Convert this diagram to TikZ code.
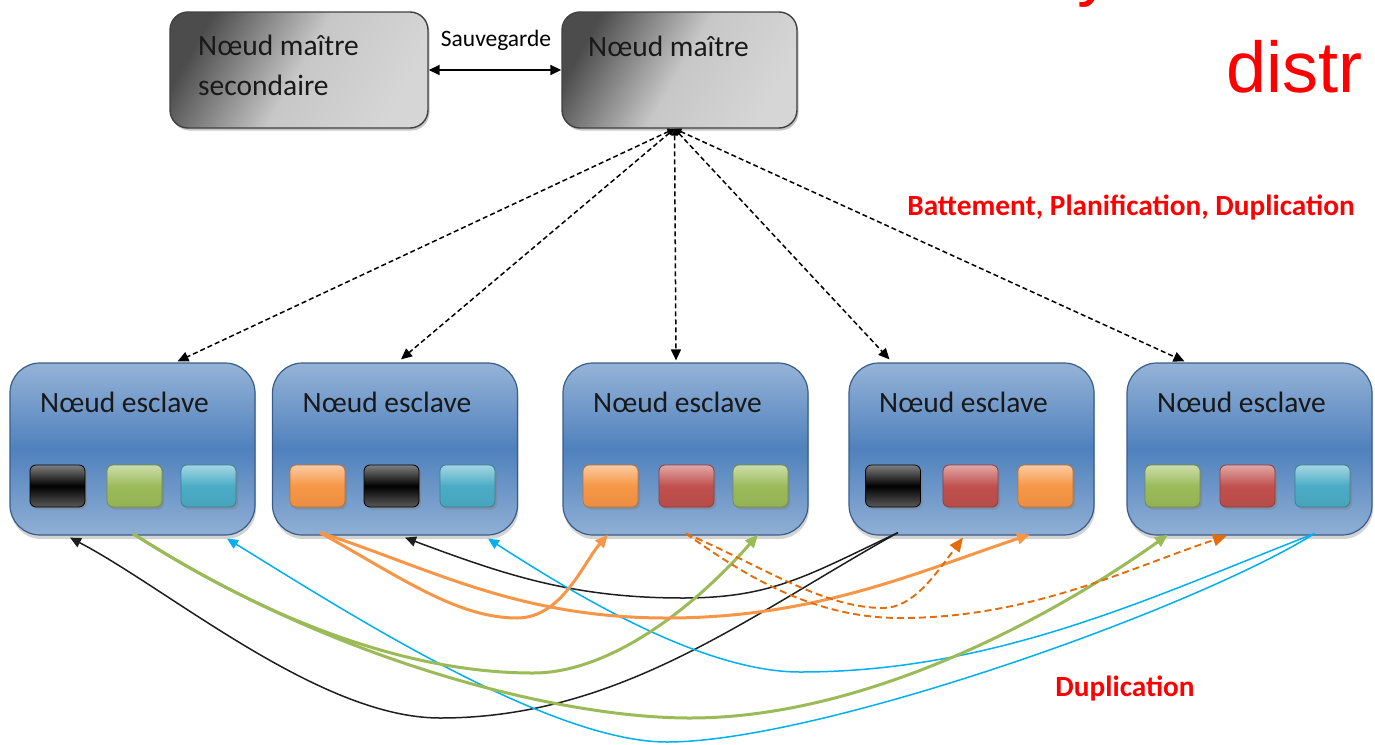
\documentclass[tikz,border=0pt]{standalone}
\usepackage{fontspec}
\setmainfont{Carlito}
\newfontfamily\arialfont{Liberation Sans}
\usetikzlibrary{arrows.meta,shadows}

\definecolor{slaveTop}{RGB}{149,179,215}
\definecolor{slaveMid}{RGB}{79,129,189}
\definecolor{slaveEdge}{RGB}{56,93,138}
\definecolor{cGreen}{RGB}{155,187,89}
\definecolor{cCyan}{RGB}{75,172,198}
\definecolor{cOrange}{RGB}{247,150,70}
\definecolor{cRed}{RGB}{192,80,77}
\definecolor{lnCyan}{RGB}{0,176,240}
\definecolor{lnOrange}{RGB}{247,150,70}
\definecolor{lnDashOrange}{RGB}{228,108,10}
\definecolor{lnGreen}{RGB}{155,187,89}
\definecolor{lnBlack}{RGB}{30,30,30}

\tikzset{
  x=1pt, y=-1pt,
  masterbox/.style={draw=black!75, line width=1.4pt, rounded corners=18pt,
    minimum width=#1, minimum height=116pt, inner sep=0pt,
    shading=axis, left color=black!70, right color=black!16, middle color=black!22,
    shading angle=60,
    drop shadow={shadow xshift=1.5pt, shadow yshift=-2.5pt, opacity=0.45}},
  slavebox/.style={draw=slaveEdge, line width=1.2pt, rounded corners=30pt,
    minimum width=245pt, minimum height=172pt, inner sep=0pt,
    top color=slaveTop, bottom color=slaveTop!92!slaveMid, middle color=slaveMid,
    drop shadow={shadow xshift=1pt, shadow yshift=-4pt, opacity=0.35}},
  chip/.style={rounded corners=6pt, minimum width=55pt, minimum height=42pt,
    inner sep=0pt, line width=0.8pt, draw=#1!75!black,
    top color=#1!50!white, bottom color=#1!95!black, middle color=#1,
    drop shadow={shadow xshift=2pt, shadow yshift=-2.5pt, opacity=0.45}},
  chipk/.style={rounded corners=6pt, minimum width=55pt, minimum height=42pt,
    inner sep=0pt, line width=0.8pt, draw=black,
    top color=black!50, bottom color=black!65, middle color=black,
    drop shadow={shadow xshift=2pt, shadow yshift=-2.5pt, opacity=0.45}},
  boxtext/.style={anchor=west, inner sep=0pt, text=black!90,
    font=\fontsize{29.5}{40}\selectfont, align=left},
  redlabel/.style={inner sep=0pt, text=red, font=\bfseries\fontsize{29.3}{30}\selectfont},
  heartbeat/.style={draw=black, line width=1.5pt, dash pattern=on 5pt off 3pt,
    {Triangle[length=7pt,width=6pt]}-{Triangle[length=11pt,width=10pt]}},
  thinlink/.style={draw=#1, line width=1.5pt, -{Triangle[length=11pt,width=10pt]}},
  thicklink/.style={draw=#1, line width=3pt, -{Triangle[length=13pt,width=11pt]}},
  dashlink/.style={draw=lnDashOrange, line width=1.9pt, dash pattern=on 7pt off 4pt,
    -{Triangle[length=14pt,width=12pt]}},
}

\begin{document}
\begin{tikzpicture}
\useasboundingbox (0,0) rectangle (1375,744);

% ---- master nodes ----
\node[masterbox=258pt] (ms) at (299,70) {};
\node[masterbox=235pt] (mm) at (679.5,70) {};
\node[boxtext] (mstext) at (198,65) {Nœud maître\\secondaire};
\node[boxtext] (mmtext) at (588,46) {Nœud maître};

\draw[line width=1.6pt, {Triangle[length=11pt,width=10pt]}-{Triangle[length=11pt,width=10pt]}]
  (ms.east) -- (mm.west);
\node[inner sep=0pt, font=\fontsize{23.5}{24}\selectfont] (sauv) at (496,40) {Sauvegarde};

% ---- slave nodes ----
\foreach \n/\cx in {1/132.5, 2/395, 3/685.5, 4/971.5, 5/1249.5} {
  \node[slavebox] (s\n) at (\cx,449) {};
  \node[boxtext] (s\n text) at (\cx-92.5,402) {Nœud esclave};
}

% data blocks held by each slave
\node[chipk]          (s1a) at (57.5,486) {};
\node[chip=cGreen]    (s1b) at (134.5,486) {};
\node[chip=cCyan]     (s1c) at (208.5,486) {};
\node[chip=cOrange]   (s2a) at (317.5,486) {};
\node[chipk]          (s2b) at (391.5,486) {};
\node[chip=cCyan]     (s2c) at (467.5,486) {};
\node[chip=cOrange]   (s3a) at (610.5,486) {};
\node[chip=cRed]      (s3b) at (686.5,486) {};
\node[chip=cGreen]    (s3c) at (760.5,486) {};
\node[chipk]          (s4a) at (893,486) {};
\node[chip=cRed]      (s4b) at (970.5,486) {};
\node[chip=cOrange]   (s4c) at (1045.5,486) {};
\node[chip=cGreen]    (s5a) at (1172.5,486) {};
\node[chip=cRed]      (s5b) at (1247.5,486) {};
\node[chip=cCyan]     (s5c) at (1322.5,486) {};

% ---- heartbeat / scheduling links ----
\coordinate (hub) at ([xshift=-5pt]mm.south);
\coordinate (t1) at ([shift={(45,-1)}]s1.north);
\coordinate (t2) at ([shift={(6,-3)}]s2.north);
\coordinate (t3) at ([shift={(-9.5,-2)}]s3.north);
\coordinate (t4) at ([shift={(-82,-3)}]s4.north);
\coordinate (t5) at ([shift={(-65,-1)}]s5.north);
\foreach \t in {t1,t2,t3,t4,t5} \draw[heartbeat] (hub) -- (\t);

\node[redlabel] (hblabel) at (1131,207) {Battement, Planification, Duplication};

% ---- replication links ----
\coordinate (k1) at ([shift={(-62.5,2)}]s1.south);
\coordinate (g1) at ([shift={(0.5,-2)}]s1.south);
\coordinate (c1) at ([shift={(94.5,3)}]s1.south);
\coordinate (o2) at ([shift={(-75,-3)}]s2.south);
\coordinate (k2) at ([shift={(10,2)}]s2.south);
\coordinate (c2) at ([shift={(93,3)}]s2.south);
\coordinate (o3) at ([shift={(-77.5,-1)}]s3.south);
\coordinate (d3) at ([shift={(0.5,-2)}]s3.south);
\coordinate (g3) at ([shift={(72.5,-1)}]s3.south);
\coordinate (k4) at ([shift={(-73.5,-3)}]s4.south);
\coordinate (d4) at ([shift={(-8.5,2)}]s4.south);
\coordinate (o4) at ([shift={(58.5,-1)}]s4.south);
\coordinate (g5) at ([shift={(-81.5,-1)}]s5.south);
\coordinate (d5) at ([shift={(-22.5,0)}]s5.south);
\coordinate (c5) at ([shift={(65,-2)}]s5.south);

% black block
\draw[thinlink=lnBlack] (k4) .. controls (748,616) and (620,718) .. (440,718)
  .. controls (320,718) and (170,590) .. (k1);
\draw[thinlink=lnBlack] (k4) .. controls (808,575) and (773,598) .. (683,598)
  .. controls (573,598) and (505,575) .. (k2);

% cyan block
\draw[thinlink=lnCyan] (c5) .. controls (1190,611) and (817,742) .. (667,742)
  .. controls (547,742) and (337,606) .. (c1);
\draw[thinlink=lnCyan] (c5) .. controls (1160,593) and (1000,672) .. (800,672)
  .. controls (700,672) and (568,590) .. (c2);

% green block
\draw[thicklink=lnGreen] (g1) .. controls (263,617) and (403,673) .. (533,673)
  .. controls (613,673) and (698,603) .. (g3);
\draw[thicklink=lnGreen] (g1) .. controls (333,662) and (560,718) .. (690,718)
  .. controls (870,718) and (1058,613) .. (g5);

% orange block
\draw[thicklink=lnOrange] (o2) .. controls (400,577) and (457,618) .. (517,618)
  .. controls (562,618) and (583,563) .. (o3);
\draw[thicklink=lnOrange] (o2) .. controls (430,568) and (517,618) .. (667,618)
  .. controls (817,618) and (920,571) .. (o4);

% red block
\draw[dashlink] (d3) .. controls (760,565) and (823,608) .. (883,608)
  .. controls (913,608) and (935,575) .. (d4);
\draw[dashlink] (d3) .. controls (740,572) and (810,618) .. (900,618)
  .. controls (1030,618) and (1127,569) .. (d5);

\node[redlabel] (duplabel) at (1125,688) {Duplication};

% ---- title fragments ----
\node[anchor=base west, inner sep=0pt, text=red, font=\arialfont\fontsize{72}{72}\selectfont]
  (title1) at (1077,-8) {y};
\node[anchor=base west, inner sep=0pt, text=red, font=\arialfont\fontsize{72}{72}\selectfont]
  (title2) at (1226,92) {distr};
\end{tikzpicture}
\end{document}
